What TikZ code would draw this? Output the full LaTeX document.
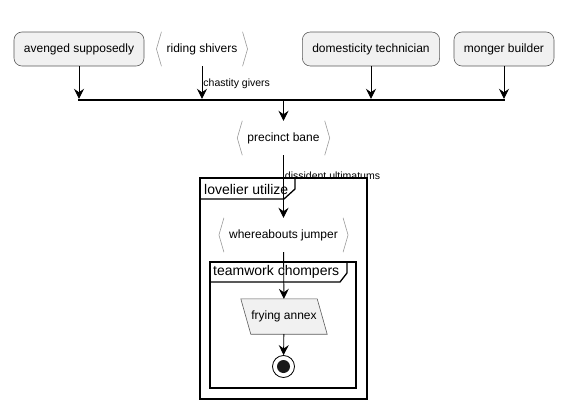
\documentclass[tikz,border=0pt]{standalone}
\usepackage{fontspec}
\setmainfont{Liberation Sans}
\usetikzlibrary{arrows.meta}
\definecolor{boxfill}{HTML}{F1F1F1}
\definecolor{boxline}{HTML}{5A5A5A}
\definecolor{bracketgray}{HTML}{9A9A9A}

\begin{document}
\begin{tikzpicture}[x=1pt, y=-1pt, font=\fontsize{12}{14}\selectfont,
  act/.style={draw=boxline, fill=boxfill, rounded corners=8pt, minimum height=34pt, inner xsep=10pt, line width=.6pt},
  rcv/.style={minimum height=34pt, inner xsep=10pt},
  bracket/.style={draw=bracketgray, line width=.6pt},
  flow/.style={-{Stealth[length=10pt, width=10pt, inset=3.5pt]}, line width=.9pt},
  lbl/.style={anchor=west, inner sep=1pt, font=\fontsize{10.5}{12}\selectfont},
  frame/.style={draw, line width=1.3pt},
  ftitle/.style={anchor=west, inner sep=0pt, font=\fontsize{14}{16}\selectfont}]
\useasboundingbox (0,0) rectangle (566,410);

% top row
\node[act] (avenged) at (79,49) {avenged supposedly};
\node[rcv] (riding) at (202,49) {riding shivers};
\node[act] (domestic) at (371,49) {domesticity technician};
\node[act] (monger) at (504,49) {monger builder};

% join bar
\node[fill=black, inner sep=0pt, minimum width=427pt, minimum height=2pt] (bar) at (291.5,100) {};

% frames
\draw[frame] (200,178) rectangle (367,399);
\draw[frame] (200,199) -- (284,199) -- (295,189) -- (295,178);
\node[ftitle] (lovelier) at (204,189) {lovelier utilize};
\draw[frame] (210,262) rectangle (356,388);
\draw[frame] (210,282) -- (340,282) -- (347,273) -- (347,262);
\node[ftitle] (teamwork) at (213,272) {teamwork chompers};

% lower column
\node[rcv] (precinct) at (283.5,138) {precinct bane};
\node[rcv] (whereabouts) at (283.5,235) {whereabouts jumper};
\node[minimum width=76pt, minimum height=35pt, inner sep=0pt] (frying) at (284,316.5) {};
\filldraw[fill=boxfill, draw=boxline, line width=.6pt]
  ([xshift=-5pt]frying.north west) -- ([xshift=-5pt]frying.north east)
  -- ([xshift=5pt]frying.south east) -- ([xshift=5pt]frying.south west) -- cycle;
\node at (frying) {frying annex};
\node[circle, draw, line width=.8pt, minimum size=22pt, inner sep=0pt] (stop) at (283.5,366.5) {};
\fill[black!90] (stop) circle (6.5pt);

\foreach \n in {riding, precinct, whereabouts}{
  \draw[bracket] ([xshift=5pt]\n.north west) -- (\n.west) -- ([xshift=5pt]\n.south west);
  \draw[bracket] ([xshift=-5pt]\n.north east) -- (\n.east) -- ([xshift=-5pt]\n.south east);
}

% connectors
\draw[flow] (avenged) -- (avenged |- bar.north);
\draw[flow] (riding) -- (riding |- bar.north) node[lbl, pos=.55] {chastity givers};
\draw[flow] (domestic) -- (domestic |- bar.north);
\draw[flow] (monger) -- (monger |- bar.north);
\draw[flow] (bar.south -| precinct) -- (precinct);
\draw[flow] (precinct) -- (whereabouts) node[lbl, pos=.33] {dissident ultimatums};
\draw[flow] (whereabouts) -- (frying);
\draw[flow] (frying) -- (stop);
\end{tikzpicture}
\end{document}
